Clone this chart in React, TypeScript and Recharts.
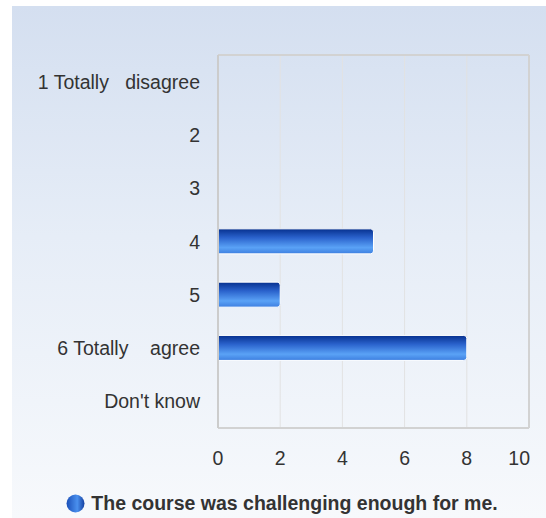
import React from 'react';
import { BarChart, Bar, XAxis, YAxis, CartesianGrid, Legend } from 'recharts';

const categories = ['1 Totally   disagree', '2', '3', '4', '5', '6 Totally    agree', "Don't know"];
const responses = [0, 0, 0, 5, 2, 8, 0];
const xTicks = [0, 2, 4, 6, 8, 10];
const seriesName = 'The course was challenging enough for me.';

const FONT = '"Liberation Sans", Arial, sans-serif';
const FS = 19.5;

const data = categories.map((c, i) => ({ category: c, value: responses[i] }));

function CategoryTick({ x, y, payload }: any) {
  return (
    <text x={x} y={y} dy={7} textAnchor="end" fill="#333" fontSize={FS} fontFamily={FONT} style={{ whiteSpace: 'pre' }}>
      {payload.value}
    </text>
  );
}

// last value label sits inside the plot's right edge
function ValueTick({ x, y, payload }: any) {
  const last = payload.value === xTicks[xTicks.length - 1];
  return (
    <text x={last ? x + 1 : x} y={y} dy="0.71em" textAnchor={last ? 'end' : 'middle'} fill="#333" fontSize={FS} fontFamily={FONT}>
      {payload.value}
    </text>
  );
}

function LegendContent() {
  return (
    <div style={{ display: 'flex', justifyContent: 'center', alignItems: 'center', height: 20, fontFamily: FONT, fontSize: FS, fontWeight: 700, color: '#333' }}>
      <svg width={19} height={19} style={{ marginRight: 6 }}>
        <defs>
          <linearGradient id="dotGrad" x1="0" y1="0" x2="1" y2="0">
            <stop offset="0%" stopColor="#1a4fb8" />
            <stop offset="60%" stopColor="#4a90ee" />
            <stop offset="100%" stopColor="#1540a0" />
          </linearGradient>
        </defs>
        <circle cx={9.5} cy={9.5} r={9} fill="url(#dotGrad)" />
      </svg>
      <span>{seriesName}</span>
    </div>
  );
}

export default function App() {
  return (
    <div style={{ position: 'absolute', left: 0, top: 0, width: 546, height: 518, background: '#fff' }}>
      <div
        style={{
          position: 'absolute',
          left: 12,
          top: 6,
          width: 534,
          height: 512,
          background: 'linear-gradient(to bottom, #d4dff0 0%, #e6edf7 45%, #f7f9fc 100%)',
        }}
      />
      <div style={{ position: 'absolute', left: 0, top: 0 }}>
        <BarChart
          layout="vertical"
          width={546}
          height={518}
          data={data}
          margin={{ top: 55, right: 17, left: 0, bottom: 0 }}
        >
          <defs>
            <linearGradient id="barGrad" x1="0" y1="0" x2="0" y2="1">
              <stop offset="0%" stopColor="#06308e" />
              <stop offset="35%" stopColor="#2a62cc" />
              <stop offset="75%" stopColor="#5aa2f6" />
              <stop offset="100%" stopColor="#3d7fe0" />
            </linearGradient>
          </defs>
          <CartesianGrid
            stroke="#e2e2e2"
            strokeWidth={1}
            verticalCoordinatesGenerator={({ offset }: any) =>
              xTicks.slice(1, -1).map((t) => offset.left + (offset.width * t) / 10)
            }
            horizontal={false}
          />
          <CartesianGrid
            stroke="#d2d2d2"
            strokeWidth={2}
            horizontalCoordinatesGenerator={({ offset }: any) => [offset.top, offset.top + offset.height]}
            verticalCoordinatesGenerator={({ offset }: any) => [offset.left + offset.width]}
          />
          <XAxis
            type="number"
            domain={[0, 10]}
            ticks={xTicks}
            axisLine={false}
            tickLine={false}
            tickMargin={17}
            tick={<ValueTick />}
            height={70}
          />
          <YAxis
            type="category"
            dataKey="category"
            width={218}
            axisLine={{ stroke: '#cccccc', strokeWidth: 2 }}
            tickLine={false}
            tickMargin={12}
            tick={<CategoryTick />}
            interval={0}
          />
          <Legend
            verticalAlign="bottom"
            content={<LegendContent />}
            wrapperStyle={{ position: 'absolute', top: 493, left: 15, width: 534, height: 20 }}
          />
          <Bar
            dataKey="value"
            name={seriesName}
            fill="url(#barGrad)"
            stroke="#ffffff"
            strokeWidth={1}
            barSize={25}
            radius={[0, 3, 3, 0]}
            isAnimationActive={false}
          />
        </BarChart>
      </div>
    </div>
  );
}
